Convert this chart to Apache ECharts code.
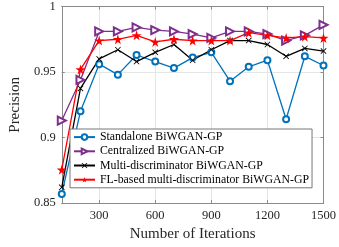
<!DOCTYPE html>
<html><head><meta charset="utf-8">
<script src="https://cdn.jsdelivr.net/npm/echarts@6/dist/echarts.min.js"></script>
<style>html,body{margin:0;padding:0;background:#fff}#c{width:339px;height:247px}</style>
</head><body><div id="c"></div>
<script>
const iterations = [100,200,300,400,500,600,700,800,900,1000,1100,1200,1300,1400,1500];
const xTicks = [300,600,900,1200,1500];
const seriesNames = ['Standalone BiWGAN-GP','Centralized BiWGAN-GP','Multi-discriminator BiWGAN-GP','FL-based multi-discriminator BiWGAN-GP'];
const standalone = [0.857,0.920,0.956,0.948,0.963,0.958,0.953,0.961,0.965,0.943,0.954,0.959,0.914,0.962,0.955];
const centralized = [0.913,0.944,0.981,0.981,0.984,0.982,0.981,0.979,0.976,0.981,0.981,0.979,0.974,0.978,0.986];
const multiDisc = [0.862,0.9375,0.960,0.967,0.958,0.965,0.971,0.959,0.967,0.974,0.974,0.971,0.962,0.968,0.966];
const flMulti = [0.8755,0.952,0.974,0.975,0.978,0.973,0.975,0.974,0.974,0.974,0.980,0.978,0.976,0.977,0.976];

const FONT = '"Liberation Serif", "Times New Roman", serif';
const AXC = '#8a8a8a';
const GRIDC = '#e6e6e6';
const xMark = 'path://M0,1L1,0L5,4L9,0L10,1L6,5L10,9L9,10L5,6L1,10L0,9L4,5Z';
const star = 'path://M50,0L61,35L98,35L68,57L79,91L50,70L21,91L32,57L2,35L39,35Z';

function pairs(vals){ return iterations.map((x,i)=>[x, vals[i]]); }

const chart = echarts.init(document.getElementById('c'), null, {renderer:'canvas'});
chart.setOption({
  animation:false,
  backgroundColor:'#fff',
  grid:{left:45, top:5, right:15, bottom:36},
  xAxis:[{
    type:'value', min:100, max:1500, interval:100, position:'bottom',
    name:'Number of Iterations', nameLocation:'middle', nameGap:22,
    nameTextStyle:{fontFamily:FONT, fontSize:15, color:'#262626'},
    axisLine:{show:true, lineStyle:{color:AXC, width:1}},
    axisTick:{show:true, inside:true, length:3, customValues:xTicks, lineStyle:{color:AXC}},
    axisLabel:{customValues:xTicks, formatter:(v)=>String(v), fontFamily:FONT, fontSize:12.5, color:'#262626', margin:6},
    splitLine:{show:true, customValues:xTicks, lineStyle:{color:GRIDC, width:1}}
  },{
    type:'value', min:100, max:1500, interval:100, position:'top',
    axisLine:{show:true, onZero:false, lineStyle:{color:AXC, width:1}},
    axisTick:{show:true, inside:true, length:3, customValues:xTicks, lineStyle:{color:AXC}},
    axisLabel:{show:false}, splitLine:{show:false}
  }],
  yAxis:[{
    type:'value', min:0.85, max:1, interval:0.05, position:'left',
    name:'Precision', nameLocation:'middle', nameGap:29.5,
    nameTextStyle:{fontFamily:FONT, fontSize:15, color:'#262626'},
    axisLine:{show:true, lineStyle:{color:AXC, width:1}},
    axisTick:{show:true, inside:true, length:3, lineStyle:{color:AXC}},
    axisLabel:{fontFamily:FONT, fontSize:12.5, color:'#262626', margin:6},
    splitLine:{show:true, lineStyle:{color:GRIDC, width:1}}
  },{
    type:'value', min:0.85, max:1, interval:0.05, position:'right',
    axisLine:{show:true, onZero:false, lineStyle:{color:AXC, width:1}},
    axisTick:{show:true, inside:true, length:3, lineStyle:{color:AXC}},
    axisLabel:{show:false}, splitLine:{show:false}
  }],
  legend:{
    show:true, orient:'vertical', left:70, top:129,
    data:seriesNames,
    backgroundColor:'#fff', borderColor:'#777', borderWidth:1,
    padding:[1,3,1,3], itemGap:0, itemWidth:21, itemHeight:7,
    textStyle:{fontFamily:FONT, fontSize:11.8, color:'#000', lineHeight:14.2}
  },
  series:[
    {name:seriesNames[0], type:'line', data:pairs(standalone), color:'#0072BD',
     symbol:'emptyCircle', symbolSize:6, lineStyle:{width:1.3}, itemStyle:{borderWidth:1.2}},
    {name:seriesNames[1], type:'line', data:pairs(centralized), color:'#7E2F8E',
     symbol:'emptyTriangle', symbolRotate:-90, symbolSize:8, lineStyle:{width:1.3}, itemStyle:{borderWidth:1.2}},
    {name:seriesNames[2], type:'line', data:pairs(multiDisc), color:'#000000',
     symbol:xMark, symbolSize:6, lineStyle:{width:1.3}},
    {name:seriesNames[3], type:'line', data:pairs(flMulti), color:'#FF0000',
     symbol:star, symbolSize:10, lineStyle:{width:1.3}}
  ]
});
</script>
</body></html>
